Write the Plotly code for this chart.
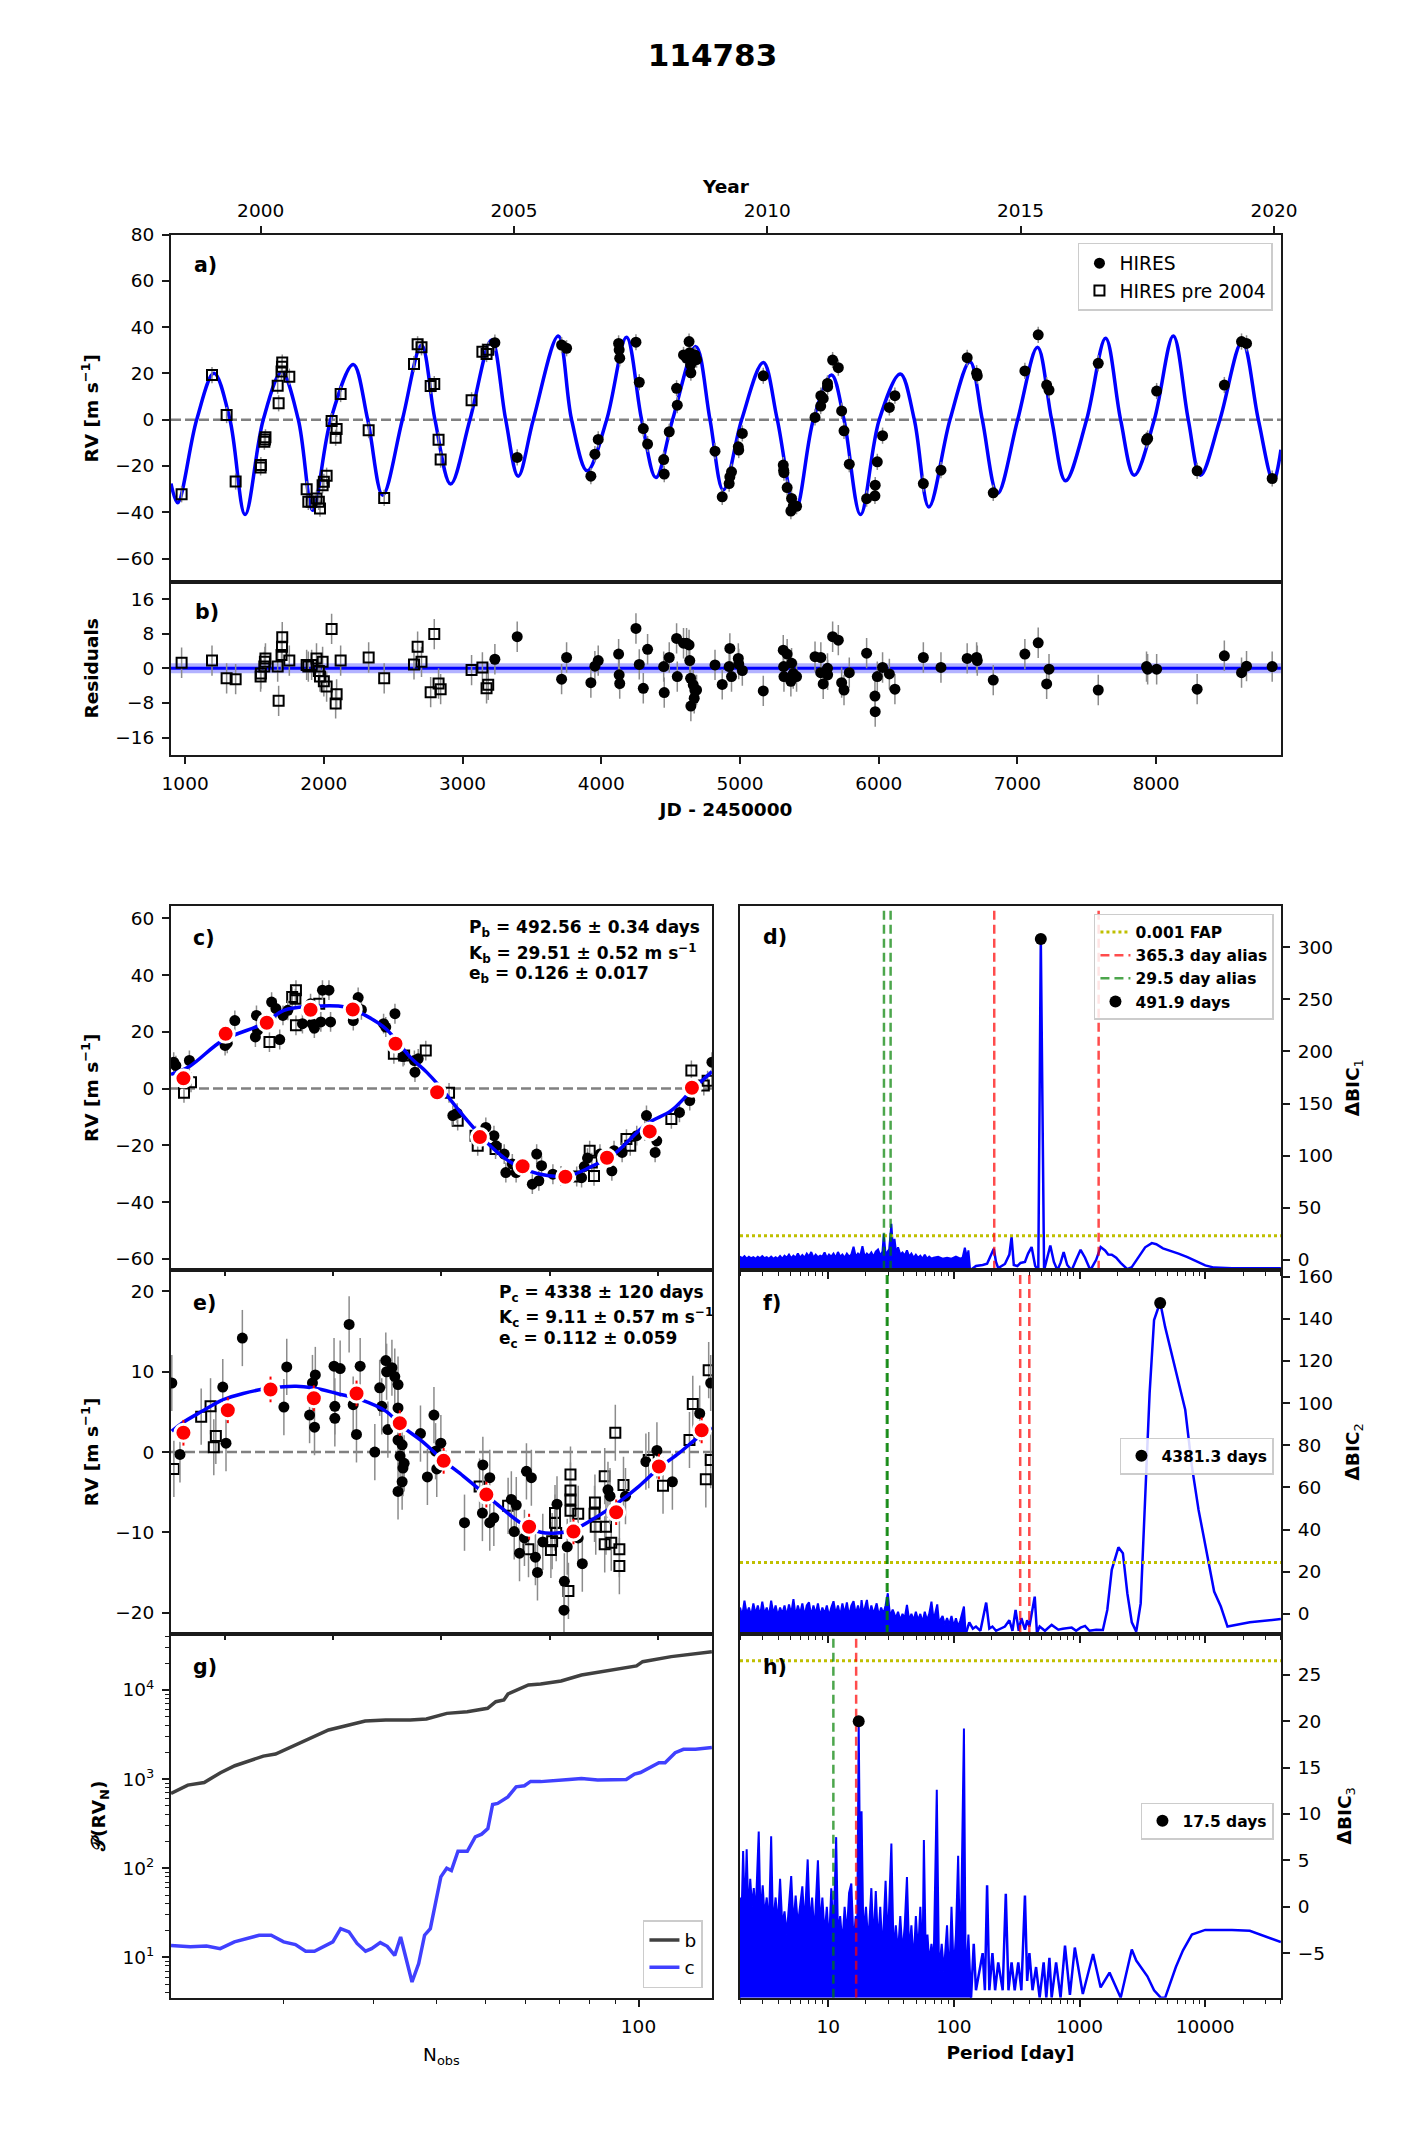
import plotly.graph_objects as go

FONT = "DejaVu Sans"

# ============================ DATA ============================
# ---- panels a/b : HIRES pre 2004 (open squares) ----
pre_jd = [974.5, 1193.6, 1299, 1364, 1544, 1546, 1571, 1575, 1579, 1667, 1674, 1695, 1698, 1700, 1751,
          1876, 1888, 1912, 1947, 1964, 1972, 1991, 2000, 2020, 2056, 2085, 2092, 2121, 2323, 2435,
          2650, 2676, 2704, 2770, 2796, 2827, 2842, 3065, 3143, 3173, 3185]
pre_rv = [-32.2, 19.3, 2.0, -26.7, -20.6, -19.6, -9.5, -8.5, -7.6, 14.7, 7.1, 20.8, 22.9, 24.7, 18.6,
          -30.0, -35.5, -35.5, -34.0, -35.5, -38.4, -28.3, -26.8, -24.2, -0.6, -7.8, -4.0, 11.1, -4.5, -33.8,
          24.1, 32.6, 31.3, 14.6, 15.4, -8.7, -17.2, 8.4, 29.4, 28.4, 30.2]
pre_res = [1.3, 1.8, -2.3, -2.5, -1.9, -1.2, 0.4, 1.5, 2.3, 0.4, -7.5, 3.1, 5.0, 7.2, 1.8,
           0.8, 0.4, 0.8, 2.3, -0.6, -1.9, 1.5, -3.0, -4.2, 9.1, -8.1, -6.0, 1.8, 2.5, -2.3,
           0.9, 5.0, 1.5, -5.5, 7.9, -3.5, -4.8, -0.4, 0.2, -4.6, -3.8]

# ---- panels a/b : HIRES (filled circles) ----
hires_jd = [3233, 3394, 3714, 3750, 3925, 3954, 3978, 4125, 4129, 4133, 4250, 4274, 4303, 4334, 4450, 4454,
            4490, 4543, 4548, 4593, 4615, 4633, 4638, 4644, 4646, 4663, 4670, 4675, 4687,
            4820, 4872, 4922, 4927, 4939, 4988, 4991, 5017, 5168, 5312, 5315, 5317, 5340, 5367, 5372, 5384, 5408,
            5541, 5582, 5583, 5600, 5631, 5632, 5668, 5709, 5733, 5750, 5788, 5913, 5973, 5975, 5990, 6028, 6077, 6117,
            6322, 6449, 6638, 6706, 6711, 6826, 7054, 7150, 7211, 7228, 7583, 7931, 7939, 8004, 8296, 8492, 8616, 8652, 8837]
hires_rv = [33.3, -16.3, 32.3, 30.9, -24.4, -14.9, -8.5, 33.0, 30.2, 26.6, 33.5, 16.2, -3.8, -10.5, -17.2, -23.5,
            -5.2, 13.6, 6.3, 28.0, 26.6, 33.8, 29.0, 23.7, 20.3, 27.3, 25.8, 28.0, 26.0,
            -13.6, -33.3, -27.6, -24.7, -22.5, -11.7, -13.1, -5.9, 19.0, -19.6, -21.8, -22.9, -29.3, -39.5, -34.0, -37.4, -37.4,
            1.0, 5.9, 10.4, 9.2, 15.7, 14.3, 25.8, 22.5, 3.8, -4.8, -19.2, -34.1, -32.9, -28.3, -18.2, -6.9, 5.3, 10.4,
            -27.6, -21.8, 26.8, 20.1, 19.0, -31.6, 21.1, 36.7, 15.0, 12.8, 24.4, -8.8, -8.1, 12.4, -22.1, 15.0, 33.8, 33.0, -25.4]
hires_res = [2.1, 7.3, -2.5, 2.5, -3.3, 0.5, 1.8, 3.3, -1.5, -3.5, 9.2, 0.9, -4.6, 4.4, 0.4, -5.6,
             2.5, 6.9, -1.9, 5.8, 5.8, 5.4, 1.8, -2.3, -8.7, -3.8, -6.9, -5.0, -5.0,
             0.8, -3.7, 0.4, 4.6, -1.9, 2.3, 1.0, -0.5, -5.2, 4.2, 0.4, -1.9, 3.3, -3.0, 1.2, -1.2, -1.9,
             2.7, -1.0, 2.5, -3.6, 0.0, -1.5, 7.3, 6.5, -3.3, -5.0, -1.0, 3.5, -6.4, -10.0, -1.9, 0.2, -1.3, -4.8,
             2.5, 0.2, 2.3, 2.5, 1.8, -2.7, 3.3, 5.9, -3.6, -0.2, -5.0, 0.4, -0.2, -0.2, -4.8, 2.9, -1.0, 0.5, 0.4]
rv_err = 3.5

# ---- two-planet model curve (extrema and zero crossings) ----
model_jd = [898, 946, 1083, 1208, 1323, 1432, 1563, 1696, 1816, 1920, 2049, 2212, 2316, 2424, 2566, 2704,
            2801, 2914, 3053, 3209, 3311, 3401, 3510, 3690, 3786, 3899, 4039, 4182, 4291, 4394, 4514, 4682,
            4784, 4879, 5012, 5168, 5269, 5401, 5529, 5660, 5750, 5869, 6004, 6156, 6257, 6362, 6514, 6658,
            6747, 6857, 7002, 7145, 7247, 7347, 7499, 7636, 7744, 7842, 7987, 8124, 8232, 8320, 8460, 8621,
            8737, 8845, 8900]
model_rv = [-27.6, -35.9, 0, 20.1, 0, -41.0, 0, 20.5, 0, -39.1, 0, 23.9, 0, -32.6, 0, 32.3,
            0, -27.8, 0, 34.5, 0, -24.4, 0, 36.2, 0, -22.1, 0, 35.6, 0, -25.0, 0, 31.6,
            0, -30.4, 0, 24.7, 0, -38.8, 0, 19.3, 0, -41.0, 0, 19.8, 0, -37.7, 0, 25.1,
            0, -31.9, 0, 31.3, 0, -26.4, 0, 35.2, 0, -24.0, 0, 36.2, 0, -24.0, 0, 33.8,
            0, -26.5, -13]

year_labels = ["2000", "2005", "2010", "2015", "2020"]
year_jd = [1544.5, 3370.75, 5197.0, 7023.25, 8849.5]
jd_ticks = [1000, 2000, 3000, 4000, 5000, 6000, 7000, 8000]

# ---- panel c : planet b phase-folded ----
c_pre = [(-0.476, -1.5), (-0.463, 2.2), (-0.318, 16.4), (-0.269, 34.7), (-0.270, 31.7), (-0.276, 32.3),
         (-0.269, 22.3), (-0.226, 29.9), (-0.088, 12.3), (-0.069, 11.7), (-0.029, 13.4), (0.014, -1.5),
         (0.030, -11.3), (0.063, -16.6), (0.067, -20.2), (0.100, -21.3), (0.250, -31.0), (0.274, -21.9),
         (0.278, -26.1), (0.282, -30.8), (0.342, -17.8), (0.349, -20.2), (0.425, -10.7), (0.462, 6.4),
         (0.485, 1.1), (0.492, 2.8)]
c_hires = [(-0.495, 9.3), (-0.491, 8.1), (-0.466, 9.9), (-0.400, 15.2), (-0.396, 16.0), (-0.382, 24.0),
           (-0.344, 18.2), (-0.342, 25.8), (-0.340, 20.5), (-0.299, 17.3), (-0.314, 30.5), (-0.306, 28.2),
           (-0.293, 25.8), (-0.284, 27.6), (-0.257, 22.9), (-0.239, 22.9), (-0.235, 21.3), (-0.223, 23.5),
           (-0.220, 34.7), (-0.208, 34.7), (-0.205, 23.5), (-0.242, 29.9), (-0.163, 24.0), (-0.154, 32.1),
           (-0.148, 27.8), (-0.107, 22.9), (-0.103, 21.7), (-0.086, 26.4), (-0.071, 11.3), (-0.050, 9.9),
           (-0.049, 5.8), (-0.043, 10.5), (0.021, -9.5), (0.029, -8.7), (0.082, -13.7), (0.097, -16.6),
           (0.101, -20.2), (0.116, -23.1), (0.119, -29.6), (0.131, -26.6), (0.138, -29.6), (0.168, -33.7),
           (0.180, -32.5), (0.176, -23.1), (0.185, -27.2), (0.206, -30.2), (0.221, -30.8), (0.259, -31.4),
           (0.264, -27.5), (0.270, -24.5), (0.293, -23.1), (0.315, -29.0), (0.319, -21.9), (0.334, -22.5),
           (0.361, -16.6), (0.376, -14.9), (0.379, -9.5), (0.398, -18.4), (0.395, -22.5), (0.440, -8.4),
           (0.459, -4.2), (0.500, 9.3)]
c_bin_phase = [-0.477, -0.399, -0.323, -0.242, -0.164, -0.085, -0.008, 0.071, 0.150, 0.229, 0.306, 0.385, 0.463]
c_bin_rv = [3.6, 19.3, 23.2, 27.8, 27.9, 15.8, -1.3, -17.1, -27.4, -31.1, -24.4, -15.1, 0.3]
c_model_phase = [-0.5, -0.4646, -0.4043, -0.3289, -0.2913, -0.2385, -0.1782, -0.1405, -0.1029, -0.0577,
                 -0.0275, -0.0049, 0.0479, 0.0931, 0.1232, 0.1609, 0.1986, 0.2363, 0.2739, 0.3191,
                 0.3794, 0.4246, 0.4623, 0.5]
c_model_rv = [5.0, 8.0, 17.0, 22.9, 27.6, 29.0, 28.8, 25.8, 21.1, 11.1,
              5.8, 1.1, -11.3, -20.7, -25.4, -29.0, -30.7, -30.7, -27.8, -23.1,
              -12.5, -7.8, -0.7, 6.0]

# ---- panel e : planet c phase-folded ----
e_hires = [(-0.4985, 8.6), (-0.4834, -0.3), (-0.4043, 8.1), (-0.3983, 1.1), (-0.3681, 14.2), (-0.2913, 5.6),
           (-0.286, 10.6), (-0.2438, 4.6), (-0.2385, 8.6), (-0.2347, 3.1), (-0.2332, 9.6), (-0.1986, 10.7),
           (-0.1971, 5.7), (-0.1971, 4.2), (-0.1873, 10.4), (-0.1707, 15.9), (-0.1632, 5.9), (-0.1571, 2.2),
           (-0.1503, 10.7), (-0.1232, 0.0), (-0.1142, 8.0), (-0.1104, 5.7), (-0.1029, 11.4), (-0.1014, 10.0),
           (-0.0991, 2.8), (-0.0916, 10.5), (-0.0863, 9.4), (-0.0803, 8.4), (-0.0803, 5.5), (-0.0803, 1.5),
           (-0.0765, -0.5), (-0.0727, 0.9), (-0.0712, -2.0), (-0.069, -1.4), (-0.0727, -3.7), (-0.0803, -4.9),
           (-0.0388, 2.3), (-0.026, -3.1), (-0.0139, 4.6), (-0.0109, 0.1), (-0.0011, 1.1), (-0.0087, -2.1),
           (0.0426, -8.8), (0.0765, -1.6), (0.0757, -7.6), (0.0893, -3.2), (0.0893, -8.8), (0.0968, -8.2),
           (0.1292, -5.9), (0.1383, -6.6), (0.1345, -9.9), (0.1443, -12.6), (0.1571, -2.4), (0.1662, -3.2),
           (0.1534, -10.7), (0.1737, -13.1), (0.1775, -15.0), (0.1873, -11.2), (0.2136, -6.5), (0.2272, -16.1),
           (0.2265, -19.7), (0.2325, -11.8), (0.2528, -10.7), (0.2604, -13.9), (0.3078, -4.7), (0.3116, -5.5),
           (0.3402, -5.5), (0.3779, -1.2), (0.3983, 0.2), (0.4269, -3.7), (0.4774, 4.8), (0.4977, 8.6)]
e_pre = [(-0.4947, -2.1), (-0.4442, 4.4), (-0.4269, 5.7), (-0.4171, 2.0), (-0.4209, 0.6), (0.0705, -4.3),
         (0.1232, -6.7), (0.1609, -12.1), (0.2023, -12.2), (0.2046, -11.1), (0.2099, -8.8), (0.2099, -7.6),
         (0.2121, -10.1), (0.2347, -17.3), (0.2385, -2.8), (0.2385, -4.8), (0.2385, -5.9), (0.2385, -7.3),
         (0.2528, -7.7), (0.2837, -6.3), (0.2830, -7.7), (0.2852, -9.3), (0.3018, -3.0), (0.3041, -9.3),
         (0.3018, -11.5), (0.3139, -11.3), (0.3289, -12.1), (0.3289, -14.2), (0.3214, 2.4), (0.3365, -4.1),
         (0.3832, -1.0), (0.4096, -4.2), (0.4585, 1.5), (0.4646, 6.0), (0.4887, -3.4), (0.4977, -1.0),
         (0.494, 10.2)]
e_bin_phase = [-0.477, -0.395, -0.316, -0.236, -0.157, -0.077, 0.004, 0.083, 0.162, 0.244, 0.323, 0.402, 0.481]
e_bin_rv = [2.4, 5.2, 7.8, 6.7, 7.3, 3.6, -1.1, -5.3, -9.3, -9.9, -7.5, -1.8, 2.7]
e_model_phase = [-0.4985, -0.4797, -0.442, -0.4043, -0.3666, -0.3139, -0.2686, -0.2385, -0.1933, -0.1481,
                 -0.1029, -0.0727, -0.035, 0.0026, 0.0403, 0.078, 0.1081, 0.1458, 0.1835, 0.2136,
                 0.2438, 0.289, 0.3267, 0.3644, 0.402, 0.4397, 0.4774, 0.5]
e_model_rv = [2.6, 3.6, 5.1, 6.5, 7.3, 8.0, 8.2, 8.0, 7.3, 6.5,
              5.1, 3.2, 1.3, -1.0, -3.0, -5.1, -6.8, -8.8, -10.0, -10.1,
              -9.7, -8.0, -6.3, -4.3, -2.0, -0.1, 2.0, 3.0]

# ---- panel d : periodogram 1 (period [day], dBIC) ----
d_noise = [(1.989, -10), (1.989, 3), (2.072, 1.5), (2.158, 3.5), (2.247, 1), (2.342, 3), (2.439, 1.5), (2.541, 2.5),
           (2.646, 1), (2.756, 3), (2.871, 1.5), (2.991, 3.5), (3.115, 1.5), (3.245, 2.5), (3.380, 1), (3.520, 3),
           (3.667, 1), (3.819, 2.5), (3.978, 1), (4.144, 3.5), (4.316, 1), (4.496, 4), (4.684, 2), (4.879, 5),
           (5.081, 1.5), (5.293, 4), (5.513, 2), (5.742, 6), (5.981, 2), (6.230, 4.5), (6.490, 2), (6.760, 6),
           (7.041, 3), (7.334, 7.5), (7.639, 2), (7.957, 5), (8.289, 2.5), (8.634, 4), (8.993, 3), (9.368, 7),
           (9.758, 2), (10.16, 5), (10.59, 3), (11.03, 6), (11.49, 2), (11.97, 7.5), (12.46, 3), (12.98, 5),
           (13.52, 2), (14.09, 6), (14.67, 3), (15.29, 5), (15.92, 12.5), (16.58, 3), (17.28, 6), (17.99, 4),
           (18.74, 13), (19.52, 3), (20.33, 6), (21.18, 4), (22.06, 7), (22.98, 3), (23.93, 8), (24.93, 10),
           (25.97, 4), (27.05, 8), (27.72, 25), (28.64, 5), (30.57, 10), (31.84, 34.6), (32.90, 8), (33.71, 20),
           (34.83, 6), (35.98, 12), (37.48, 5), (39.04, 7), (40.67, 4), (42.36, 9), (44.13, 3), (45.96, 6),
           (47.87, 2), (49.87, 5), (51.95, 2), (54.11, 4), (56.37, 1), (58.71, 5), (61.16, 1), (63.70, 3),
           (66.35, 1), (69.11, 2), (74.99, 3), (81.36, 1), (88.28, 2), (95.79, 1), (103.9, 3), (112.7, 1),
           (117.4, 2), (122.3, 11.5), (127.4, 2), (130.6, 9), (134.9, -10)]
d_line = [(134.9, -10), (150.0, -6), (169.5, -5), (183.9, -3.8), (196.3, 4), (207.9, 10.6), (216.5, -2),
          (225.5, -8), (254.9, -4), (276.5, 5), (288.0, 21.8), (300.0, -5), (320.3, -6), (339.1, -3),
          (367.9, -2), (389.5, 6), (415.7, 12.2), (443.8, -6), (469.8, -10), (491.9, 308.5), (522.4, -10),
          (553.1, 2), (585.6, 13.8), (625.1, -2), (667.2, -10), (706.4, -3), (747.9, 7.4), (798.4, -5),
          (866.2, -10), (939.8, 0), (1019.7, 9.6), (1106.4, 2), (1220.2, -10), (1356.7, 0), (1472, 12.2),
          (1597, 9), (1691, 5), (1805, 4.8), (1958, 2), (2125, -3), (2401, -9), (2605, -7), (2944, 2),
          (3327, 12), (3761, 16), (4080, 15), (4611, 11), (5212, 9), (6135, 6), (7222, 2.6), (8503, -1.5),
          (10008, -5.4), (11780, -7.5), (16326, -8), (40048, -8)]
d_fap = 23.0
d_red = [209.6, 1419.4]
d_green = [27.8, 31.4]
d_peak = (491.9, 308.0)

# ---- panel f : periodogram 2 ----
f_noise = [(1.989, -9.5), (1.989, 3), (2.072, -1), (2.158, 6.3), (2.247, 0), (2.342, 3), (2.439, -1), (2.541, 5),
           (2.646, 0), (2.756, 4), (2.871, -1), (2.991, 5.8), (3.115, 0), (3.245, 3), (3.380, -1), (3.520, 6.3),
           (3.667, 0), (3.819, 4), (3.978, -1), (4.144, 3), (4.316, 0), (4.496, 4), (4.684, -1), (4.879, 4.5),
           (5.081, 0), (5.293, 7), (5.513, -1), (5.742, 4), (5.981, 0), (6.230, 5), (6.490, -1), (6.760, 4),
           (7.041, 5.5), (7.334, -1), (7.639, 4), (7.957, 0), (8.289, 5), (8.634, -1), (8.993, 3), (9.368, 0),
           (9.758, 4), (10.16, -1), (10.59, 3), (11.03, 6), (11.49, 0), (11.97, 4), (12.46, -1), (12.98, 5),
           (13.52, 0), (14.09, 5.5), (14.67, -1), (15.29, 4), (15.92, 6), (16.58, 0), (17.28, 4), (17.99, -1),
           (18.44, 6.6), (19.05, 0), (20.33, 6.6), (21.18, -1), (22.06, 4), (22.98, 0), (24.32, 5), (25.34, -1),
           (26.39, 3), (27.49, 0), (28.64, 4), (29.83, 9.8), (31.07, -1), (32.63, 2), (34.54, -2), (35.98, 1),
           (37.48, -3), (39.04, 0), (40.67, -2), (42.36, 4.3), (44.13, -3), (45.96, 0), (47.87, -3), (49.87, 1),
           (51.95, -3), (54.11, 0), (56.37, -4), (58.71, 1), (61.16, -3), (63.70, 0), (66.35, 5.8), (69.11, -3),
           (73.77, 4.5), (76.21, -4), (81.36, -1), (84.76, -5), (88.28, -2), (91.93, -5), (95.79, -1), (99.75, -6),
           (103.9, -2), (108.2, -6), (112.7, -3), (120.3, 3.5), (124.3, -9.5)]
f_line = [(124.3, -9.5), (132.7, -4), (141.7, -7), (150.0, -6), (162.7, -8), (180.9, 5.4), (191.6, -7),
          (202.8, -6), (216.5, -8), (234.9, -7), (254.9, -6), (276.5, -3), (292.8, -8), (309.9, 1.9),
          (328.2, -8), (344.6, -2), (367.9, -7.5), (383.2, -3), (399.2, -6), (415.7, 0), (440.2, 8.2),
          (458.5, -9), (481.6, -6), (531.0, -8), (600.1, -5.2), (678.2, -7.5), (735.8, -7), (866.2, -6.5),
          (939.8, -8), (1019.7, -6.5), (1106.4, -5.7), (1200.4, -8), (1356.7, -7.5), (1533.2, -7.6),
          (1663.5, 1.9), (1804.9, 20.9), (2039, 31.6), (2213, 28.8), (2401, 9.8), (2606, -4), (2827, -8.4),
          (3067, 5), (3327, 57), (3611, 104.7), (3918, 139.4), (4381.3, 147.8), (4803, 136), (5428, 123),
          (6135, 110), (6935, 96.8), (7836, 70), (8855, 49.3), (9611, 38.3), (10424, 27.2), (11780, 10.6),
          (13314, 3.5), (15046, -6), (22628, -4), (40048, -2.4)]
f_fap = 24.4
f_red = [337.2, 398.5]
f_green = [29.3, 29.7]
f_peak = (4381.3, 147.5)

# ---- panel h : periodogram 3 ----
h_noise = [(1.989, -9.8), (1.989, 1.0), (2.039, -2), (2.106, 6.0), (2.176, -1), (2.247, 6.2), (2.322, -1), (2.399, 3),
           (2.479, 0), (2.561, 2), (2.646, -1), (2.803, 8.1), (2.894, -1), (3.015, 2.3), (3.115, -1), (3.245, 1),
           (3.380, -2), (3.520, 7.6), (3.637, -2), (3.819, 1), (3.978, -2), (4.144, 3), (4.316, -2), (4.496, -0.5),
           (4.684, -3), (4.879, 0), (5.081, 3.3), (5.293, -2), (5.513, 1.2), (5.742, -2), (5.981, 0), (6.230, 2.2),
           (6.490, -2), (6.872, 5.1), (7.156, -2), (7.455, 1), (7.765, -3), (8.289, 5.0), (8.634, -2), (8.993, 1),
           (9.368, -3), (9.758, 0), (10.16, -4), (10.59, 2), (11.03, -3), (11.58, 7.5), (11.97, -3), (12.46, -1),
           (12.98, -4), (13.52, 0), (14.09, -3), (14.67, 1.5), (15.29, 2.5), (15.92, -4), (16.58, -1), (16.99, -5),
           (17.5, 19.9), (17.99, 2), (18.44, 10.3), (19.05, -3), (20.00, 0), (20.84, -4), (22.06, 2), (22.98, -4),
           (23.93, 1.7), (24.93, -4), (25.97, 0), (27.05, -5), (28.64, 2.8), (29.83, -4), (31.84, 6.8), (33.16, -5),
           (34.54, -2), (35.98, -5), (37.48, -1), (39.04, -5), (40.67, -2), (42.36, 3.2), (44.13, -5), (45.96, -2),
           (47.87, -6), (49.87, -1), (51.95, -5), (54.11, 0), (56.37, -6), (57.76, 7.2), (59.68, -5), (61.66, -3),
           (63.70, -6), (66.35, -4), (69.11, -6), (73.17, 12.6), (76.21, -7), (80.06, -4), (83.39, -7), (88.28, -2),
           (91.93, -8), (95.79, 0), (99.75, -7), (103.9, -3), (108.2, 5.5), (112.7, -7), (120.3, 19.2), (124.3, -8),
           (130.6, -3), (137.1, -9.8)]
h_line = [(137.1, -9.8), (144.0, -4), (150.0, -9), (158.8, -7), (169.5, -5), (176.6, -9), (183.9, 2.3),
          (191.6, -9), (202.8, -5), (213.0, -9), (225.5, -6), (244.7, -9), (259.1, 1.4), (272.0, -9),
          (288.0, -6), (305.0, -9), (325.5, -6), (344.6, -9), (367.9, 1.2), (383.2, -8), (399.2, -5),
          (422.6, -9), (451.1, -6.5), (481.6, -9.8), (518.2, -6), (544.2, -9.8), (576.1, -5.5), (600.1, -9.8),
          (651.2, -6), (706.4, -9.8), (766.4, -4.2), (838.5, -9.5), (917.3, -4.4), (1062.1, -9.4),
          (1281.5, -5.1), (1472, -8.7), (1733, -7.1), (2125, -9.8), (2605, -4.6), (2827, -5.8), (3067, -6.5),
          (3466, -7.5), (3918, -9), (4427, -9.8), (4803, -9.8), (5212, -8.5), (5842, -6.5), (6657, -4.7),
          (7836, -3), (10008, -2.5), (16326, -2.5), (22628, -2.6), (40048, -3.8)]
h_fap = 26.5
h_red = [16.7]
h_green = [11.0]
h_peak = (17.5, 20.0)

# ---- panel g : P(RV_N) vs N_obs ----
g_b_n = [12.0, 12.95, 13.95, 15.02, 16.03, 17.26, 18.24, 19.28, 20.77, 22.36, 24.52, 26.41, 28.96, 31.77,
         35.5, 38.22, 41.93, 45.99, 50.44, 52.35, 54.3, 55.34, 60.7, 64.15, 70.4, 77.2, 84.7, 91.2, 99.1,
         101.9, 116, 139.5]
g_b_val = [690, 857, 917, 1178, 1413, 1635, 1811, 1909, 2307, 2812, 3555, 3946, 4487, 4606,
           4606, 4720, 5467, 5712, 6225, 7396, 7727, 9016, 11380, 11680, 12620, 14740, 16070, 17510, 18620,
           20800, 23690, 26900]
g_c_n = [12.0, 13.1, 14.1, 15.0, 16.0, 17.9, 18.9, 20.0, 21.1, 22.1, 23.0, 25.0, 25.9, 26.9, 27.9, 29.0,
         29.8, 31.0, 32.0, 33.1, 34.0, 35.8, 36.9, 37.9, 38.9, 40.8, 41.9, 42.8, 44.1, 46.0, 47.7, 49.1,
         50.5, 51.6, 52.8, 54.3, 55.3, 57.4, 59.6, 61.3, 64.2, 73.0, 77.2, 83.1, 94.6, 98.2, 100.9, 109.7,
         112.8, 118.1, 122.6, 129.5, 139.5]
g_c_val = [13.6, 13.1, 13.4, 12.5, 14.9, 17.7, 17.7, 14.9, 13.9, 11.7, 11.7, 14.9, 21.0, 19.3, 14.3, 11.7,
           12.5, 14.6, 13.3, 10.5, 16.9, 5.28, 8.5, 17.7, 21.0, 80, 100, 94, 155, 155, 225, 241,
           279, 519, 533, 590, 631, 820, 841, 942, 937, 991, 1016, 975, 991, 1137, 1184, 1528,
           1528, 1977, 2158, 2158, 2270]

# ============================ LAYOUT CONSTANTS ============================
XA = [0.1200, 0.8989]
XL = [0.1200, 0.4996]
XR = [0.5193, 0.8989]
YA = [0.7278, 0.8902]
YB = [0.6467, 0.7278]
Y1 = [0.4058, 0.5762]
Y2 = [0.2354, 0.4058]
Y3 = [0.0652, 0.2354]

JD_RANGE = [898, 8900]
A_RANGE = [-70, 80]
B_RANGE = [-20, 20]
PH_RANGE = [-0.5, 0.5]
C_RANGE = [-63.9, 64.5]
E_RANGE = [-22.66, 22.7]
LOGP_RANGE = [0.2986, 4.6025]
P_RANGE = [1.989, 40048]
D_RANGE = [-9.6, 340]
F_RANGE = [-9.5, 163.2]
H_RANGE = [-9.8, 29.4]
GX_RANGE = [1.0792, 2.1446]
GY_RANGE = [0.547, 4.629]

P_MINOR = [2, 3, 4, 5, 6, 7, 8, 9, 20, 30, 40, 50, 60, 70, 80, 90, 200, 300, 400, 500, 600, 700, 800, 900,
           2000, 3000, 4000, 5000, 6000, 7000, 8000, 9000, 20000, 30000, 40000]
GX_MINOR = [20, 30, 40, 50, 60, 70, 80, 90]
GY_MINOR = [4, 5, 6, 7, 8, 9, 20, 30, 40, 50, 60, 70, 80, 90, 200, 300, 400, 500, 600, 700, 800, 900,
            2000, 3000, 4000, 5000, 6000, 7000, 8000, 9000, 20000, 30000, 40000]

BLUE = "#0000ff"
GRAY = "#808080"
ERRC = "#8c8c8c"
RED_A = "rgba(255,0,0,0.7)"
GREEN_A = "rgba(0,128,0,0.7)"
YEL = "#bfbf00"
LINEC = "#1a1a1a"

TICKFONT = dict(family=FONT, size=18.5, color="black")
TITLEFONT = dict(family=FONT, size=18.5, color="black")


def axis(**kw):
    base = dict(showline=True, linecolor=LINEC, linewidth=2, mirror=True, ticks="outside", ticklen=7,
                tickwidth=1.6, tickcolor=LINEC, showgrid=False, zeroline=False, tickfont=TICKFONT,
                ticklabelstandoff=4, automargin=False)
    base.update(kw)
    return base


def minor(vals):
    return dict(tickvals=vals, ticks="outside", ticklen=4, tickwidth=1.2, tickcolor=LINEC)


fig = go.Figure()

# ============================ PANEL a ============================
fig.add_trace(go.Scatter(x=JD_RANGE, y=[0, 0], mode="lines", xaxis="x", yaxis="y",
                         line=dict(color=GRAY, width=2.5, dash="10px,4px"), showlegend=False, hoverinfo="skip"))
fig.add_trace(go.Scatter(x=model_jd, y=model_rv, mode="lines", xaxis="x", yaxis="y",
                         line=dict(color=BLUE, width=3.5, shape="spline", smoothing=1.0), showlegend=False))
fig.add_trace(go.Scatter(x=pre_jd, y=pre_rv, mode="markers", xaxis="x", yaxis="y", name="HIRES pre 2004",
                         marker=dict(symbol="square-open", size=10, color="black", line=dict(width=2, color="black")),
                         error_y=dict(type="constant", value=rv_err, color=ERRC, thickness=1.5, width=0),
                         legend="legend", legendrank=2))
fig.add_trace(go.Scatter(x=hires_jd, y=hires_rv, mode="markers", xaxis="x", yaxis="y", name="HIRES",
                         marker=dict(symbol="circle", size=11, color="black"),
                         error_y=dict(type="constant", value=rv_err, color=ERRC, thickness=1.5, width=0),
                         legend="legend", legendrank=1))

# ============================ PANEL b ============================
fig.add_trace(go.Scatter(x=JD_RANGE, y=[0, 0], mode="lines", xaxis="x2", yaxis="y2",
                         line=dict(color="rgba(0,0,255,0.3)", width=10), showlegend=False, hoverinfo="skip"))
fig.add_trace(go.Scatter(x=JD_RANGE, y=[0, 0], mode="lines", xaxis="x2", yaxis="y2",
                         line=dict(color=BLUE, width=3), showlegend=False, hoverinfo="skip"))
fig.add_trace(go.Scatter(x=pre_jd, y=pre_res, mode="markers", xaxis="x2", yaxis="y2", showlegend=False,
                         marker=dict(symbol="square-open", size=10, color="black", line=dict(width=2, color="black")),
                         error_y=dict(type="constant", value=rv_err, color=ERRC, thickness=1.5, width=0)))
fig.add_trace(go.Scatter(x=hires_jd, y=hires_res, mode="markers", xaxis="x2", yaxis="y2", showlegend=False,
                         marker=dict(symbol="circle", size=11, color="black"),
                         error_y=dict(type="constant", value=rv_err, color=ERRC, thickness=1.5, width=0)))


# ============================ PANELS c / e ============================
def phase_panel(xa, ya, pre, hires, mph, mrv, bph, brv, berr):
    fig.add_trace(go.Scatter(x=PH_RANGE, y=[0, 0], mode="lines", xaxis=xa, yaxis=ya,
                             line=dict(color=GRAY, width=2.5, dash="10px,4px"), showlegend=False, hoverinfo="skip"))
    fig.add_trace(go.Scatter(x=[p for p, v in pre], y=[v for p, v in pre], mode="markers", xaxis=xa, yaxis=ya,
                             showlegend=False,
                             marker=dict(symbol="square-open", size=10, color="black", line=dict(width=2, color="black")),
                             error_y=dict(type="constant", value=rv_err, color=ERRC, thickness=1.5, width=0)))
    fig.add_trace(go.Scatter(x=[p for p, v in hires], y=[v for p, v in hires], mode="markers", xaxis=xa, yaxis=ya,
                             showlegend=False, marker=dict(symbol="circle", size=11, color="black"),
                             error_y=dict(type="constant", value=rv_err, color=ERRC, thickness=1.5, width=0)))
    fig.add_trace(go.Scatter(x=mph, y=mrv, mode="lines", xaxis=xa, yaxis=ya, showlegend=False,
                             line=dict(color=BLUE, width=3.5, shape="spline", smoothing=1.0)))
    fig.add_trace(go.Scatter(x=bph, y=brv, mode="markers", xaxis=xa, yaxis=ya, showlegend=False,
                             marker=dict(symbol="circle", size=17, color="red", line=dict(width=3, color="white")),
                             error_y=dict(type="constant", value=berr, color="red", thickness=2, width=0)))


phase_panel("x3", "y3", c_pre, c_hires, c_model_phase, c_model_rv, c_bin_phase, c_bin_rv, 0.8)
phase_panel("x5", "y5", e_pre, e_hires, e_model_phase, e_model_rv, e_bin_phase, e_bin_rv, 1.6)


# ============================ PANELS d / f / h ============================
def pgram(xa, ya, noise, line, fap, red, green, peak, yr, legend, peak_label, full_legend):
    fig.add_trace(go.Scatter(x=[p for p, v in noise], y=[v for p, v in noise], mode="lines", xaxis=xa, yaxis=ya,
                             fill="toself", fillcolor=BLUE, line=dict(color=BLUE, width=2),
                             showlegend=False, hoverinfo="skip"))
    fig.add_trace(go.Scatter(x=[p for p, v in line], y=[v for p, v in line], mode="lines", xaxis=xa, yaxis=ya,
                             line=dict(color=BLUE, width=2.5), showlegend=False))
    fig.add_trace(go.Scatter(x=P_RANGE, y=[fap, fap], mode="lines", xaxis=xa, yaxis=ya,
                             line=dict(color=YEL, width=3, dash="dot"), name="<b>0.001 FAP</b>",
                             showlegend=full_legend, legend=legend, legendrank=1))
    for i, p in enumerate(red):
        fig.add_trace(go.Scatter(x=[p, p], y=yr, mode="lines", xaxis=xa, yaxis=ya,
                                 line=dict(color=RED_A, width=2.5, dash="9px,5px"), name="<b>365.3 day alias</b>",
                                 showlegend=(full_legend and i == 0), legend=legend, legendrank=2))
    for i, p in enumerate(green):
        fig.add_trace(go.Scatter(x=[p, p], y=yr, mode="lines", xaxis=xa, yaxis=ya,
                                 line=dict(color=GREEN_A, width=2.5, dash="9px,5px"), name="<b>29.5 day alias</b>",
                                 showlegend=(full_legend and i == 0), legend=legend, legendrank=3))
    fig.add_trace(go.Scatter(x=[peak[0]], y=[peak[1]], mode="markers", xaxis=xa, yaxis=ya,
                             marker=dict(symbol="circle", size=12, color="black"), name=peak_label,
                             legend=legend, legendrank=4))


pgram("x4", "y4", d_noise, d_line, d_fap, d_red, d_green, d_peak, D_RANGE, "legend2", "<b>491.9 days</b>", True)
pgram("x6", "y6", f_noise, f_line, f_fap, f_red, f_green, f_peak, F_RANGE, "legend3", "<b>4381.3 days</b>", False)
pgram("x8", "y8", h_noise, h_line, h_fap, h_red, h_green, h_peak, H_RANGE, "legend4", "<b>17.5 days</b>", False)

# ============================ PANEL g ============================
fig.add_trace(go.Scatter(x=g_b_n, y=g_b_val, mode="lines", xaxis="x7", yaxis="y7", name="b",
                         line=dict(color="#404040", width=3.5), legend="legend5"))
fig.add_trace(go.Scatter(x=g_c_n, y=g_c_val, mode="lines", xaxis="x7", yaxis="y7", name="c",
                         line=dict(color="#4040ff", width=3.5), legend="legend5"))

# ============================ AXES ============================
lay = dict(
    xaxis=axis(domain=XA, anchor="y", side="top", range=JD_RANGE, tickmode="array", tickvals=year_jd,
               ticktext=year_labels, ticklabelstandoff=1,
               title=dict(text="<b>Year</b>", font=TITLEFONT, standoff=2)),
    yaxis=axis(domain=YA, anchor="x", range=A_RANGE, tickmode="array", tickvals=[-60, -40, -20, 0, 20, 40, 60, 80],
               title=dict(text="<b>RV [m s<sup>−1</sup>]</b>", font=TITLEFONT, standoff=12)),
    xaxis2=axis(domain=XA, anchor="y2", range=JD_RANGE, tickmode="array", tickvals=jd_ticks,
                title=dict(text="<b>JD - 2450000</b>", font=TITLEFONT, standoff=10)),
    yaxis2=axis(domain=YB, anchor="x2", range=B_RANGE, tickmode="array", tickvals=[-16, -8, 0, 8, 16],
                title=dict(text="<b>Residuals</b>", font=TITLEFONT, standoff=12)),
    xaxis3=axis(domain=XL, anchor="y3", range=PH_RANGE, tickmode="array", tickvals=[-0.4, -0.2, 0, 0.2, 0.4],
                showticklabels=False, ticklen=4),
    yaxis3=axis(domain=Y1, anchor="x3", range=C_RANGE, tickmode="array", tickvals=[-60, -40, -20, 0, 20, 40, 60],
                title=dict(text="<b>RV [m s<sup>−1</sup>]</b>", font=TITLEFONT, standoff=12)),
    xaxis4=axis(domain=XR, anchor="y4", type="log", range=LOGP_RANGE, tickmode="array",
                tickvals=[10, 100, 1000, 10000], showticklabels=False, minor=minor(P_MINOR)),
    yaxis4=axis(domain=Y1, anchor="x4", side="right", range=D_RANGE, tickmode="array",
                tickvals=[0, 50, 100, 150, 200, 250, 300],
                title=dict(text="<b>ΔBIC</b><sub>1</sub>", font=TITLEFONT, standoff=14)),
    xaxis5=axis(domain=XL, anchor="y5", range=PH_RANGE, tickmode="array", tickvals=[-0.4, -0.2, 0, 0.2, 0.4],
                showticklabels=False, ticklen=4),
    yaxis5=axis(domain=Y2, anchor="x5", range=E_RANGE, tickmode="array", tickvals=[-20, -10, 0, 10, 20],
                title=dict(text="<b>RV [m s<sup>−1</sup>]</b>", font=TITLEFONT, standoff=12)),
    xaxis6=axis(domain=XR, anchor="y6", type="log", range=LOGP_RANGE, tickmode="array",
                tickvals=[10, 100, 1000, 10000], showticklabels=False, minor=minor(P_MINOR)),
    yaxis6=axis(domain=Y2, anchor="x6", side="right", range=F_RANGE, tickmode="array",
                tickvals=[0, 20, 40, 60, 80, 100, 120, 140, 160],
                title=dict(text="<b>ΔBIC</b><sub>2</sub>", font=TITLEFONT, standoff=14)),
    xaxis7=axis(domain=XL, anchor="y7", type="log", range=GX_RANGE, tickmode="array", tickvals=[100],
                ticktext=["100"], minor=minor(GX_MINOR),
                title=dict(text="N<sub>obs</sub>", font=TITLEFONT, standoff=12)),
    yaxis7=axis(domain=Y3, anchor="x7", type="log", range=GY_RANGE, tickmode="array",
                tickvals=[10, 100, 1000, 10000],
                ticktext=["10<sup>1</sup>", "10<sup>2</sup>", "10<sup>3</sup>", "10<sup>4</sup>"],
                minor=minor(GY_MINOR),
                title=dict(text="<b>𝒫(RV<sub>N</sub>)</b>", font=TITLEFONT, standoff=12)),
    xaxis8=axis(domain=XR, anchor="y8", type="log", range=LOGP_RANGE, tickmode="array",
                tickvals=[10, 100, 1000, 10000], ticktext=["10", "100", "1000", "10000"], minor=minor(P_MINOR),
                title=dict(text="<b>Period [day]</b>", font=TITLEFONT, standoff=10)),
    yaxis8=axis(domain=Y3, anchor="x8", side="right", range=H_RANGE, tickmode="array",
                tickvals=[-5, 0, 5, 10, 15, 20, 25],
                title=dict(text="<b>ΔBIC</b><sub>3</sub>", font=TITLEFONT, standoff=14)),
)

LEG = dict(bgcolor="rgba(255,255,255,0.85)", bordercolor="#cccccc", borderwidth=1.5, xanchor="right",
           yanchor="top", tracegroupgap=2)
lay["legend"] = dict(LEG, x=0.8933, y=0.8863, font=dict(family=FONT, size=18.7, color="black"))
lay["legend2"] = dict(LEG, x=0.894, y=0.5723, font=dict(family=FONT, size=15.5, color="black"))
lay["legend3"] = dict(LEG, x=0.894, y=0.3272, font=dict(family=FONT, size=15.5, color="black"))
lay["legend4"] = dict(LEG, x=0.894, y=0.1564, font=dict(family=FONT, size=15.5, color="black"))
lay["legend5"] = dict(LEG, x=0.4933, y=0.0697, yanchor="bottom", font=dict(family=FONT, size=18.5, color="black"))

fig.update_layout(**lay)

# ============================ TEXT ============================
panel_labels = [("a)", 0.1345, 0.876), ("b)", 0.1354, 0.7138), ("c)", 0.1338, 0.5611), ("d)", 0.534, 0.5617),
                ("e)", 0.1338, 0.3904), ("f)", 0.534, 0.3904), ("g)", 0.1338, 0.2199), ("h)", 0.534, 0.2201)]
for txt, x, y in panel_labels:
    fig.add_annotation(text="<b>%s</b>" % txt, x=x, y=y, xref="paper", yref="paper", xanchor="left",
                       yanchor="middle", showarrow=False, font=dict(family=FONT, size=20.5, color="black"))

c_text = ["P<sub>b</sub> = 492.56 ± 0.34 days", "K<sub>b</sub> = 29.51 ± 0.52 m s<sup>−1</sup>",
          "e<sub>b</sub> = 0.126 ± 0.017"]
e_text = ["P<sub>c</sub> = 4338 ± 120 days", "K<sub>c</sub> = 9.11 ± 0.57 m s<sup>−1</sup>",
          "e<sub>c</sub> = 0.112 ± 0.059"]
for t, y in zip(c_text, [0.5653, 0.5540, 0.5438]):
    fig.add_annotation(text="<b>%s</b>" % t, x=0.328, y=y, xref="paper", yref="paper", xanchor="left",
                       yanchor="middle", showarrow=False, font=dict(family=FONT, size=17, color="black"))
for t, y in zip(e_text, [0.3949, 0.3837, 0.3734]):
    fig.add_annotation(text="<b>%s</b>" % t, x=0.349, y=y, xref="paper", yref="paper", xanchor="left",
                       yanchor="middle", showarrow=False, font=dict(family=FONT, size=17, color="black"))

fig.update_layout(
    template="none",
    width=1425, height=2137, autosize=False,
    margin=dict(l=0, r=0, t=0, b=0, pad=0),
    paper_bgcolor="white", plot_bgcolor="white",
    font=dict(family=FONT, size=17, color="black"),
    title=dict(text="<b>114783</b>", x=0.5, xanchor="center", y=0.9743, yanchor="middle",
               font=dict(family=FONT, size=31, color="black")),
    hovermode=False,
)

fig.write_html("out.html", config={"displayModeBar": False},
               post_script="document.body.style.margin='0';document.body.style.overflow='hidden';")
